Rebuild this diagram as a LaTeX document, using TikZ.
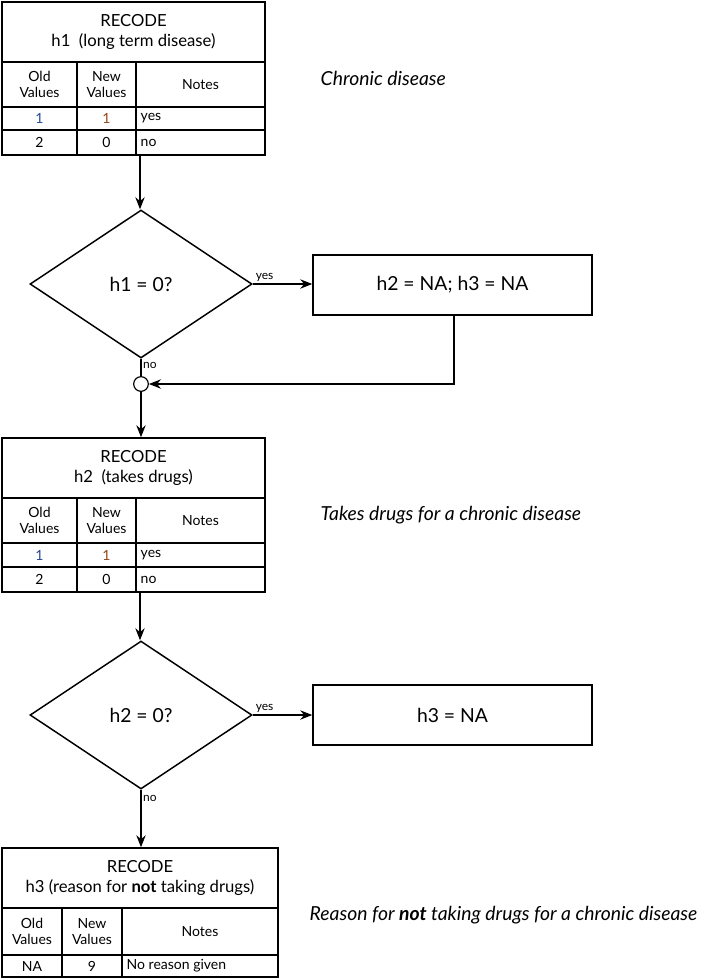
\documentclass[tikz,border=0pt]{standalone}
\usepackage{fontspec}
\setmainfont{Lato}
\usetikzlibrary{shapes.geometric,positioning,arrows.meta}
\definecolor{oldblue}{RGB}{40,70,150}
\definecolor{newbrown}{RGB}{150,70,20}

\begin{document}
\begin{tikzpicture}[
    x=0.75pt, y=-0.75pt,
    line width=1.1pt,
    cell/.style={inner sep=0pt, align=center, font=\fontsize{10.5}{11.5}\selectfont},
    note/.style={anchor=west, inner sep=0pt, font=\fontsize{10.5}{11.5}\selectfont},
    title/.style={inner sep=0pt, align=center, font=\fontsize{12.5}{15}\selectfont},
    frame/.style={draw, rectangle, inner sep=0pt},
    decision/.style={diamond, draw, aspect=1.5, minimum width=166.5pt, minimum height=111pt, inner sep=0pt, font=\fontsize{14.5}{16}\selectfont},
    action/.style={rectangle, draw, minimum width=209.25pt, minimum height=45pt, inner sep=0pt, font=\fontsize{14.5}{16}\selectfont},
    comment/.style={anchor=west, inner sep=0pt, font=\fontsize{14.5}{16}\selectfont\itshape},
    small/.style={font=\fontsize{9}{10}\selectfont, inner sep=1pt},
    arrow/.style={-{Stealth[length=9pt,width=7pt]}}
]
\useasboundingbox (0,0) rectangle (703,979);

% Table h1
\node[frame, minimum width=197.25pt, minimum height=114.75pt] (tabA) at (133.5,78.5) {};
\draw (2,62) -- (265,62) (2,107) -- (265,107) (2,130) -- (265,130);
\draw (77,62) -- (77,155) (136,62) -- (136,155);
\node[title] (tabAtitle) at (133.5,32) {RECODE\\h1\ \ (long term disease)};
\node[cell] at (39.5,84.5) {Old\\Values};
\node[cell] at (106.5,84.5) {New\\Values};
\node[cell] at (200.5,84.5) {Notes};
\node[cell, text=oldblue] at (39.5,118.5) {1};
\node[cell, text=newbrown] at (106.5,118.5) {1};
\node[note] at (140,118.5) {yes};
\node[cell] at (39.5,142.5) {2};
\node[cell] at (106.5,142.5) {0};
\node[note] at (140,142.5) {no};
\coordinate (tabAout) at (140,155);

% Decision h1
\node[decision] (decA) at (141,284) {h1 = 0?};
\node[action] (setA) at (452.5,285) {h2 = NA; h3 = NA};
\node[draw, circle, minimum size=11pt, inner sep=0pt, line width=0.9pt] (join) at (141,384) {};
\coordinate (setAout) at (454,315);

\draw[arrow] (tabAout) -- (tabAout |- decA.north);
\draw[arrow] (decA.east) -- node[small, above, pos=0.2] {yes} (setA.west |- decA.east);
\draw[arrow] (setAout) -- (setAout |- join) -- (join.east);
\draw (decA.south) -- node[small, right, pos=0.4] {no} (join.north);

% Table h2
\node[frame, minimum width=197.25pt, minimum height=115.5pt] (tabB) at (133.5,515) {};
\draw (2,498) -- (265,498) (2,543) -- (265,543) (2,567) -- (265,567);
\draw (77,498) -- (77,592) (136,498) -- (136,592);
\node[title] (tabBtitle) at (133.5,468) {RECODE\\h2\ \ (takes drugs)};
\node[cell] at (39.5,520.5) {Old\\Values};
\node[cell] at (106.5,520.5) {New\\Values};
\node[cell] at (200.5,520.5) {Notes};
\node[cell, text=oldblue] at (39.5,555) {1};
\node[cell, text=newbrown] at (106.5,555) {1};
\node[note] at (140,555) {yes};
\node[cell] at (39.5,579.5) {2};
\node[cell] at (106.5,579.5) {0};
\node[note] at (140,579.5) {no};
\coordinate (tabBout) at (140,592);

\draw[arrow] (join.south) -- (join |- tabB.north);

% Decision h2
\node[decision] (decB) at (141,715) {h2 = 0?};
\node[action] (setB) at (452.5,715) {h3 = NA};

\draw[arrow] (tabBout) -- (tabBout |- decB.north);
\draw[arrow] (decB.east) -- node[small, above, pos=0.2] {yes} (setB.west);

% Table h3
\node[frame, minimum width=207pt, minimum height=96.75pt] (tabC) at (140,912.5) {};
\draw (2,908) -- (278,908) (2,955) -- (278,955);
\draw (62,908) -- (62,977) (122,908) -- (122,977);
\node[title] (tabCtitle) at (140,878) {RECODE\\h3 (reason for \textbf{not} taking drugs)};
\node[cell] at (32,931.5) {Old\\Values};
\node[cell] at (92,931.5) {New\\Values};
\node[cell] at (200,931.5) {Notes};
\node[cell] at (32,966) {NA};
\node[cell] at (92,966) {9};
\node[note] at (126,966) {No reason given};

\draw[arrow] (decB.south) -- node[small, right, pos=0.15] {no} (decB.south |- tabC.north);

% Comments
\node[comment] (comA) at (320,78) {Chronic disease};
\node[comment] (comB) at (320,515) {Takes drugs for a chronic disease};
\node[comment] (comC) at (309,915) {Reason for \textbf{not} taking drugs for a chronic disease};
\end{tikzpicture}
\end{document}
